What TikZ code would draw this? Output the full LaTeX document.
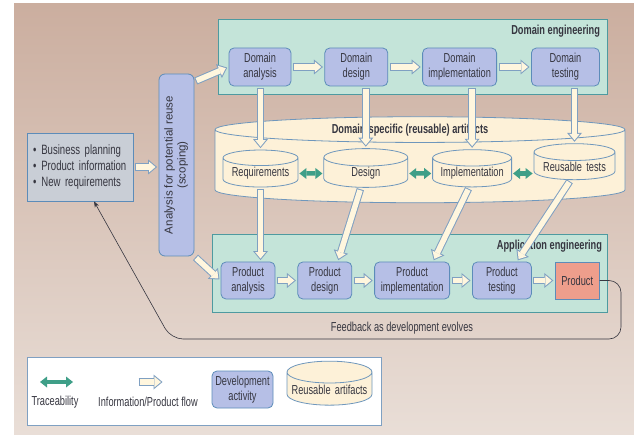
\documentclass[tikz,border=0pt]{standalone}
\usepackage{fontspec}
\setmainfont{Liberation Sans}[FakeStretch=0.71]
\newfontfamily\widesans{Liberation Sans}
\usepackage{graphicx}
\usetikzlibrary{arrows.meta,positioning,shapes.geometric,calc}

\definecolor{bgtop}{HTML}{CBAE9F}
\definecolor{bgbot}{HTML}{E9DED7}
\definecolor{mint}{HTML}{C4E4D9}
\definecolor{mintline}{HTML}{4E9AA0}
\definecolor{lav}{HTML}{B6BFE6}
\definecolor{lavline}{HTML}{5C8CB9}
\definecolor{cream}{HTML}{FDF1D8}
\definecolor{creamline}{HTML}{6F97BC}
\definecolor{salmon}{HTML}{EE9E8C}
\definecolor{slate}{HTML}{C9CED6}
\definecolor{teal}{HTML}{3F9F88}
\definecolor{flowfill}{HTML}{FFF6DE}
\definecolor{flowline}{HTML}{7FA0C2}
\definecolor{inktext}{HTML}{363640}

\tikzset{
  activity/.style={rectangle, rounded corners=5pt, draw=lavline, fill=lav,
    line width=0.8pt, align=center, minimum height=38pt, inner sep=2pt},
  artifact/.style={cylinder, shape border rotate=90, draw=creamline, fill=cream,
    line width=0.8pt, aspect=0.21, inner sep=1pt, align=center},
  phase/.style={rectangle, draw=mintline, fill=mint, line width=1pt},
  grouplabel/.style={font=\bfseries\fontsize{13}{15}\selectfont},
  flowout/.style={draw=flowline, line width=7.5pt, shorten <=1.5pt, shorten >=1.5pt,
    -{Triangle[line width=0pt, width=15pt, length=9pt]}},
  flowin/.style={draw=flowfill, line width=5.5pt, shorten <=2.5pt, shorten >=3.06pt,
    -{Triangle[line width=0pt, width=10.7pt, length=6.45pt]}},
  trace/.style={draw=teal, line width=4.5pt, shorten <=1pt, shorten >=1pt,
    {Triangle[line width=0pt, width=11pt, length=7pt]}-{Triangle[line width=0pt, width=11pt, length=7pt]}},
  feedback/.style={draw=inktext, line width=0.6pt, rounded corners=12pt,
    -{Stealth[length=6pt, width=4.5pt]}}
}

% block arrow: outline first, then the light inside
\newcommand{\flow}[2]{%
  \draw[flowout] #1 -- #2;
  \draw[flowin] #1 -- #2;}

\begin{document}
\begin{tikzpicture}[x=1pt, y=1pt, text=inktext,
                    font=\fontsize{13}{15}\selectfont]
\useasboundingbox (0,0) rectangle (634,434);
\fill[white] (0,0) rectangle (634,434);
\fill[top color=bgtop, bottom color=bgbot] (14,0) rectangle (634,430);

% domain engineering
\node[phase, minimum width=389pt, minimum height=75pt] (deng) at (412.5,376.5) {};
\node[grouplabel, below left=2pt and 4pt of deng.north east] (denglabel) {Domain engineering};
\node[activity, minimum width=62pt] (da) at (260,367) {Domain\\analysis};
\node[activity, minimum width=63pt, right=33pt of da] (dd) {Domain\\design};
\node[activity, minimum width=74pt, right=34pt of dd] (di) {Domain\\implementation};
\node[activity, minimum width=68pt, right=34pt of di] (dt) {Domain\\testing};

% reusable artifacts
\node[artifact, aspect=0.063, text width=406pt, minimum width=410pt, minimum height=86pt] (arts) at (420,267) {};
\node[grouplabel] (artslabel) at (410,304) {Domain-specific (reusable) artifacts};
\node[artifact, text width=72pt, minimum width=75pt, minimum height=37pt] (req) at (260.5,260.5) {Requirements};
\node[artifact, text width=81pt, minimum width=84pt, minimum height=37pt, right=25pt of req] (des) {Design};
\node[artifact, text width=76pt, minimum width=79pt, minimum height=37pt, right=24pt of des] (imp) {Implementation};
\node[artifact, text width=78pt, minimum width=81pt, minimum height=36pt] (tests) at (574.5,267) {Reusable tests};

% application engineering
\node[phase, minimum width=395pt, minimum height=77pt] (aeng) at (409.5,160.5) {};
\node[grouplabel, below left=2pt and 2pt of aeng.north east] (aenglabel) {Application engineering};
\node[activity, minimum width=54pt, minimum height=37pt] (pa) at (248,153.5) {Product\\analysis};
\node[activity, minimum width=54pt, minimum height=37pt, right=22pt of pa] (pd) {Product\\design};
\node[activity, minimum width=75pt, minimum height=37pt, right=22pt of pd] (pi) {Product\\implementation};
\node[activity, minimum width=59pt, minimum height=37pt, right=22pt of pi] (pt) {Product\\testing};
\node[activity, rounded corners=0pt, fill=salmon, minimum width=44pt, minimum height=37pt,
      right=23pt of pt] (prod) {Product};

% inputs and scoping
\node[rectangle, draw=lavline, fill=slate, line width=0.8pt, minimum width=106pt,
      minimum height=68pt, text width=94pt, align=left,
      font=\fontsize{13.5}{16}\selectfont] (inputs) at (80,267)
  {\textbullet\hspace{5pt}Business planning\\
   \textbullet\hspace{5pt}Product information\\
   \textbullet\hspace{5pt}New requirements};
\node[activity, rounded corners=6pt, minimum width=35pt, minimum height=182pt, inner sep=0pt,
      font=\widesans\fontsize{11.5}{13}\selectfont] (scoping) at (176.5,269)
  {\rotatebox{90}{\begin{tabular}{@{}c@{}}Analysis for potential reuse\\(scoping)\end{tabular}}};

% information / product flow
\flow{(inputs.east)}{(inputs.east -| scoping.west)}
\flow{([yshift=-8pt]scoping.north east)}{(da.west)}
\flow{(scoping.south east)}{(pa.west)}
\flow{(da)}{(dd)}
\flow{(dd)}{(di)}
\flow{(di)}{(dt)}
\flow{(req.north |- da.south)}{(req.north)}
\flow{(des.north |- dd.south)}{(des.north)}
\flow{(imp.north |- di.south)}{(imp.north)}
\flow{(tests.north |- dt.south)}{(tests.north)}
\flow{(req.south)}{(req.south |- pa.north)}
\flow{([xshift=-5pt]des.south)}{([xshift=13pt]pd.north)}
\flow{([xshift=-3pt]imp.south)}{([xshift=21pt]pi.north)}
\flow{([xshift=-4pt]tests.south)}{([xshift=15pt]pt.north)}
\flow{(pa)}{(pd)}
\flow{(pd)}{(pi)}
\flow{(pi)}{(pt)}
\flow{(pt)}{(prod)}

% traceability
\draw[trace] (req) -- (des);
\draw[trace] (des) -- (imp);
\draw[trace] (imp.east) -- (imp.east -| tests.west);

% feedback loop
\draw[feedback] (prod.east) -- (621,153.5) -- (621,95) -- (171,95) -- ([xshift=14pt]inputs.south);
\node (fbtext) at (402,106) {Feedback as development evolves};

% legend
\node[rectangle, draw=flowline, fill=white, line width=0.8pt, minimum width=354pt,
      minimum height=68pt] (legend) at (204,43) {};
\coordinate (tr1) at (39,52);
\coordinate (tr2) at (74,52);
\draw[trace] (tr1) -- (tr2);
\node (trtext) at (55,32) {Traceability};
\coordinate (fl1) at (137,52);
\coordinate (fl2) at (164,52);
\flow{(fl1)}{(fl2)}
\node (fltext) at (148,32) {Information/Product flow};
\node[activity, minimum width=61pt, minimum height=37pt] (devkey) at (242.5,44.5) {Development\\activity};
\node[artifact, aspect=0.26, text width=82pt, minimum width=85pt, minimum height=44pt] (artkey) at (329.5,44) {Reusable artifacts};

\end{tikzpicture}
\end{document}
